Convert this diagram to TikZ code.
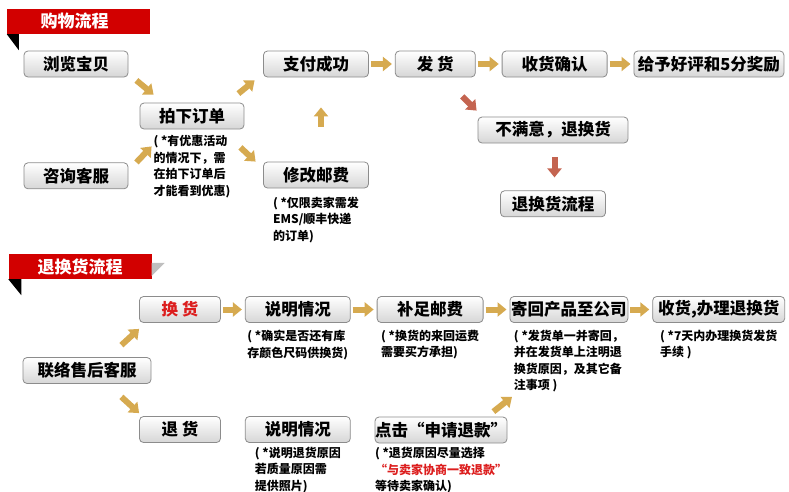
\documentclass[tikz,border=0pt]{standalone}
\usepackage{fontspec}
\setmainfont{Noto Sans CJK SC}
\usetikzlibrary{positioning, arrows.meta}
\definecolor{gold}{RGB}{214,170,80}
\definecolor{rust}{RGB}{196,100,80}
\definecolor{bannerred}{RGB}{210,0,0}
\definecolor{boxline}{RGB}{140,140,140}
\definecolor{hotred}{RGB}{220,30,30}
\tikzset{
box/.style={draw=boxline, line width=0.8pt, rounded corners=4pt, top color=white, bottom color=gray!32, minimum height=26pt, inner sep=0pt, font=\fontsize{16.5}{18}\selectfont\bfseries}, % grey step boxes
note/.style={align=left, inner sep=0pt, font=\fontsize{12}{16.5}\selectfont\bfseries}, % small remarks under a box
garrow/.style={line width=6pt, gold, -{Triangle[width=14pt,length=9pt]}}, % short gold block arrows
rarrow/.style={garrow, rust}, % the reddish arrows
harrow/.style={garrow, shorten <=2pt, shorten >=3pt}, % straight arrows inside a row
banner/.style={fill=bannerred, text=white, minimum width=143pt, minimum height=25pt, inner sep=0pt, font=\fontsize{17}{17}\selectfont\bfseries}, % red section titles
node distance=26pt, % gap between boxes in a row
}

\begin{document}
\begin{tikzpicture}[x=1pt, y=-1pt]
\useasboundingbox (0,0) rectangle (789,491);

\node[banner] (shop) at (78.5,21.5) {\hspace*{-8pt}购物流程};
\fill ([xshift=0pt]shop.south west) -- ++(12,0) -- ++(0,16) -- cycle;

\node[box, minimum width=104pt] (browse) at (76,64) {浏览宝贝};
\node[box, minimum width=104pt, below=85pt of browse] (consult) {咨询客服};
\node[box, minimum width=104pt] (order) at (192,116) {拍下订单};
\node[note, below=6pt of order] (n1) {( *有优惠活动\\的情况下，需\\在拍下订单后\\才能看到优惠)};
\node[box, minimum width=105pt] (pay) at (316,64) {支付成功};
\node[box, minimum width=105pt] (edit) at (316,175) {修改邮费};
\node[note, below=8pt of edit] (n2) {( *仅限卖家需发\\EMS/顺丰快递\\的订单)};
\node[box, minimum width=80pt, right=of pay] (ship) {发 货};
\node[box, minimum width=105pt, right=of ship] (confirm) {收货确认};
\node[box, minimum width=150pt, right=of confirm] (praise) {给予好评和5分奖励};
\node[box, minimum width=150pt] (unhappy) at (553,130) {不满意，退换货};
\node[box, minimum width=105pt, below=47pt of unhappy] (flow) {退换货流程};

\draw ([shift={(8,3)}]browse.south east) edge[garrow] ([shift={(14,-8)}]order.north west)
([shift={(8,0)}]consult.north east) edge[garrow] ([shift={(12,17)}]order.south west)
([shift={(-6,-9)}]order.north east) edge[garrow] ([shift={(-8.5,3)}]pay.south west)
([shift={(-4,18)}]order.south east) edge[garrow] ([shift={(-7.5,0)}]edit.north west)
([shift={(5,-35)}]edit.north) edge[garrow] ([shift={(5,30)}]pay.south)
(pay) edge[harrow] (ship)
(ship) edge[harrow] (confirm)
(confirm) edge[harrow] (praise)
([shift={(-13.5,19)}]ship.south east) edge[rarrow] ([shift={(-1,-6)}]unhappy.north west)
([shift={(1.5,14)}]unhappy.south) edge[rarrow] ([shift={(1.5,-13)}]flow.north);

\node[banner] (back) at (80,266.5) {退换货流程};
\fill ([xshift=0pt]back.south west) -- ++(13,0) -- ++(0,16) -- cycle;
\fill[gray!50] ([yshift=-9pt]back.north east) -- ++(13,0) -- ++(-13,13) -- cycle;

\node[box, minimum width=128pt] (contact) at (87,370.5) {联络售后客服};
\node[box, minimum width=81pt] (exch) at (180,309.5) {\textcolor{hotred}{换 货}};
\node[box, minimum width=81pt] (ret) at (180,429.5) {退 货};
\node[box, minimum width=105pt, right=24pt of exch] (explainA) {说明情况};
\node[note, below=7pt of explainA] (n3) {( *确实是否还有库\\ 存颜色尺码供换货)};
\node[box, minimum width=105pt, right=24pt of ret] (explainB) {说明情况};
\node[note, below=4pt of explainB] (n4) {( *说明退货原因\\ 若质量原因需\\ 提供照片)};
\node[box, minimum width=106pt, right=of explainA] (postage) {补足邮费};
\node[note, below=7pt of postage] (n5) {( *换货的来回运费\\ 需要买方承担)};
\node[box, minimum width=118pt, right=of postage] (sendback) {寄回产品至公司};
\node[note, below=7pt of sendback] (n6) {( *发货单一并寄回，\\并在发货单上注明退\\换货原因，及其它备\\注事项 )};
\node[box, minimum width=132pt, right=24pt of sendback] (finish) {收货,办理退换货};
\node[note, below=7pt of finish] (n7) {( *7天内办理换货发货\\ 手续 )};
\node[box, minimum width=132pt] (refund) at (441,430) {点击“申请退款”};
\node[note, below=4pt of refund] (n8) {( *退货原因尽量选择\\\textcolor{hotred}{“与卖家协商一致退款”}\\ 等待卖家确认)};

\draw ([shift={(-30,-12)}]contact.north east) edge[garrow] ([shift={(0,6)}]exch.south west)
([shift={(-30,13)}]contact.south east) edge[garrow] ([shift={(0,-3)}]ret.north west)
(exch) edge[harrow] (explainA)
(explainA) edge[harrow] (postage)
(postage) edge[harrow] (sendback)
(sendback) edge[harrow] (finish)
([shift={(-14,-5)}]refund.north east) edge[garrow] ([shift={(2.5,74)}]sendback.south west);
\end{tikzpicture}
\end{document}
